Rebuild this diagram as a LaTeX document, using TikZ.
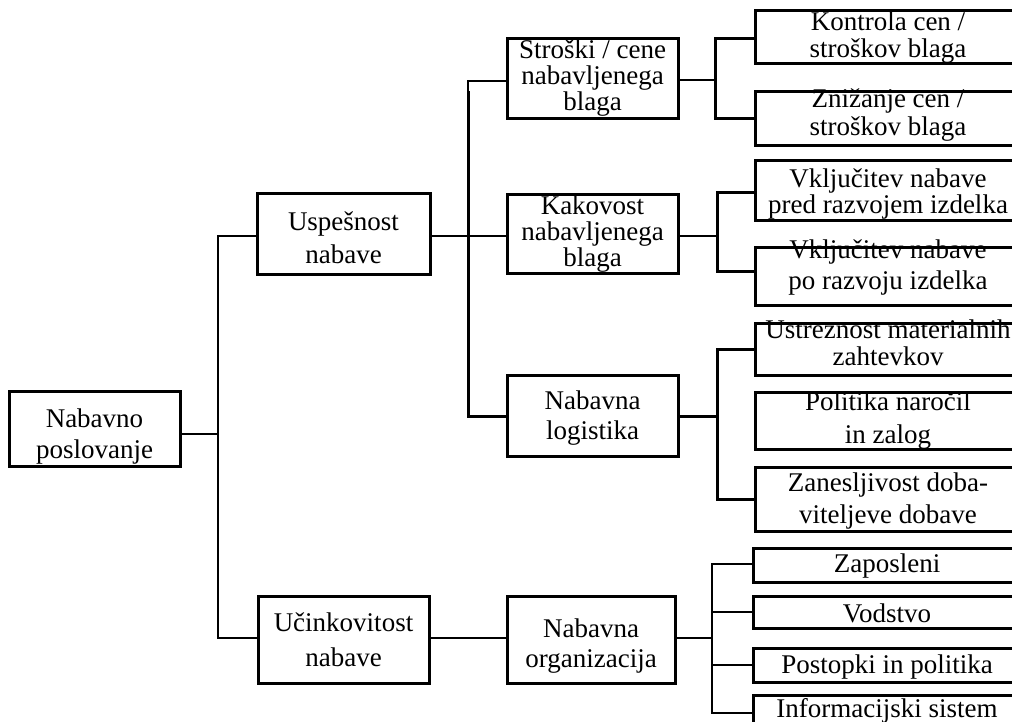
\documentclass[tikz,border=0pt]{standalone}
\usepackage{fontspec}
\setmainfont{Liberation Serif}
\begin{document}
\begin{tikzpicture}[x=1pt,y=-1pt,
  box/.style={draw, line width=3pt, inner sep=0pt, align=center, fill=white},
  ls/.style={font=\fontsize{27}{#1}\selectfont},
  % last baseline placed below the box centre by half the given length
  down/.style={text height=#1, text depth=0pt},
  thinline/.style={line width=1.2pt},
  thickline/.style={line width=3pt, line join=miter}]
\useasboundingbox (0,0) rectangle (1012,721);
\clip (0,0) rectangle (1012,721);
\fill[white] (0,0) rectangle (1012,721);

% levels 1 and 2
\node[box, ls=31, down=59pt, minimum width=171, minimum height=75] (np) at (94.5,428.5) {Nabavno\\poslovanje};
\node[box, ls=33, down=59pt, minimum width=173, minimum height=81] (un) at (343.5,233.5) {Uspešnost\\nabave};
\node[box, ls=35, down=53pt, minimum width=171, minimum height=87] (uc) at (343.5,639.5) {Učinkovitost\\nabave};

% level 3
\node[box, ls=26, down=64pt, minimum width=171, minimum height=80] (sc) at (592.5,78) {Stroški / cene\\nabavljenega\\blaga};
\node[box, ls=26, down=65pt, minimum width=171, minimum height=79] (kk) at (592.5,233.5) {Kakovost\\nabavljenega\\blaga};
\node[box, ls=30, down=47pt, minimum width=171, minimum height=81] (nl) at (592.5,416) {Nabavna\\logistika};
\node[box, ls=30, down=55pt, minimum width=168, minimum height=87] (no) at (591,639.5) {Nabavna\\organizacija};

% level 4
\node[box, ls=27, down=41pt, minimum width=266, minimum height=53] (k1) at (888,36.5) {Kontrola cen /\\stroškov blaga};
\node[box, ls=28, down=34pt, minimum width=266, minimum height=54] (k2) at (888,118) {Znižanje cen /\\stroškov blaga};
\node[box, ls=26, down=46pt, minimum width=266, minimum height=60] (v1) at (888,190) {Vključitev nabave\\pred razvojem izdelka};
\node[box, ls=31, down=26pt, minimum width=266, minimum height=58] (v2) at (888,276) {Vključitev nabave\\po razvoju izdelka};
\node[box, ls=27, down=32pt, minimum width=266, minimum height=52] (u1) at (888,349) {Ustreznost materialnih\\zahtevkov};
\node[box, ls=33, down=45pt, minimum width=266, minimum height=57] (p1) at (888,420.5) {Politika naročil\\in zalog};
\node[box, ls=32, down=48pt, minimum width=266, minimum height=64] (z1) at (888,499) {Zanesljivost doba-\\viteljeve dobave};
\node[box, ls=32, down=14pt, minimum width=268, minimum height=34] (o1) at (887,565) {Zaposleni};
\node[box, ls=32, down=20pt, minimum width=268, minimum height=32] (o2) at (887,612) {Vodstvo};
\node[box, ls=32, down=16pt, minimum width=268, minimum height=34] (o3) at (887,665) {Postopki in politika};
\node[box, ls=32, down=8pt, minimum width=268, minimum height=36] (o4) at (887,713) {Informacijski sistem};

% junction points of the branch lines
\coordinate (t0) at (218,434);
\coordinate (t1) at (468,91);
\coordinate (t2) at (715,80);
\coordinate (t3) at (717,236);
\coordinate (t5) at (717,416);
\coordinate (t4) at (712,638);

% connectors
\draw[thinline] ([yshift=-5.5pt]np.east) -- (t0);
\draw[thinline] ([yshift=-2.5pt]un.west) -| (t0) |- ([yshift=1.5pt]uc.west);
\draw[thinline] ([yshift=-2.5pt]un.east) -- ([yshift=-2.5pt]kk.west);
\draw[thinline] ([yshift=1.5pt]uc.east) -- ([yshift=1.5pt]no.west);
\draw[thinline] ([yshift=-3pt]sc.west) -| (t1);
\draw[thickline] (t1) |- (nl.west);

\draw[thinline] ([yshift=-2pt]sc.east) -- (t2);
\draw[thickline] ([yshift=-1.5pt]k1.west) -| (t2) |- (k2.west);

\draw[thinline] ([yshift=-2.5pt]kk.east) -- (t3);
\draw[thickline] ([yshift=-2pt]v1.west) -| (t3) |- ([yshift=5pt]v2.west);

\draw[thickline] (nl.east) -- (t5);
\draw[thickline] (u1.west) -| (t5) |- (z1.west);

\draw[thinline] ([yshift=1.5pt]no.east) -- (t4);
\draw[thinline] ([yshift=1pt]o1.west) -| (t4) |- (o4.west);
\draw[thinline] (o2.west) -- (o2.west -| t4);
\draw[thinline] (o3.west) -- (o3.west -| t4);
\end{tikzpicture}
\end{document}
